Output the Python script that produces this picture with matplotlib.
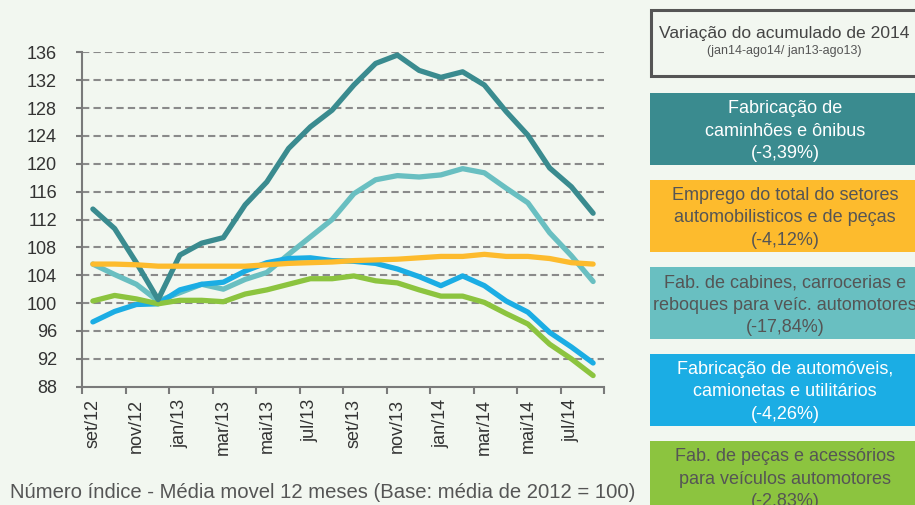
import matplotlib
matplotlib.use("Agg")
import matplotlib.pyplot as plt
from matplotlib.patches import Rectangle

# monthly index, 12-month moving average (base: 2012 mean = 100), set/12 .. ago/14
months = ["set/12", "out/12", "nov/12", "dez/12", "jan/13", "fev/13", "mar/13", "abr/13",
          "mai/13", "jun/13", "jul/13", "ago/13", "set/13", "out/13", "nov/13", "dez/13",
          "jan/14", "fev/14", "mar/14", "abr/14", "mai/14", "jun/14", "jul/14", "ago/14"]
caminhoes = [113.5, 110.7, 105.8, 100.5, 106.9, 108.6, 109.4, 114.1, 117.4, 122.2, 125.3, 127.7,
             131.3, 134.4, 135.6, 133.4, 132.4, 133.2, 131.3, 127.5, 124.1, 119.4, 116.7, 112.9]
cabines = [105.6, 104.1, 102.7, 100.3, 101.5, 102.7, 102.0, 103.4, 104.4, 107.0, 109.5, 112.0,
           115.7, 117.7, 118.3, 118.1, 118.4, 119.3, 118.7, 116.5, 114.4, 110.1, 106.8, 103.1]
automoveis = [97.3, 98.8, 99.8, 99.9, 101.9, 102.7, 103.0, 104.6, 105.8, 106.4, 106.5, 106.1,
              106.0, 105.7, 104.9, 103.8, 102.5, 103.9, 102.5, 100.3, 98.7, 95.8, 93.7, 91.4]
pecas = [100.3, 101.1, 100.6, 99.9, 100.4, 100.4, 100.2, 101.3, 101.9, 102.7, 103.5, 103.5,
         103.9, 103.2, 102.9, 101.9, 101.0, 101.0, 100.1, 98.5, 97.0, 94.1, 92.0, 89.6]
total = [105.6, 105.6, 105.5, 105.3, 105.3, 105.3, 105.3, 105.3, 105.5, 105.7, 105.8, 105.9,
         106.1, 106.2, 106.3, 106.5, 106.7, 106.7, 107.0, 106.7, 106.7, 106.4, 105.8, 105.6]

box_labels = ["Fabricação de\ncaminhões e ônibus",
              "Emprego do total do setores\nautomobilisticos e de peças",
              "Fab. de cabines, carrocerias e\nreboques para veíc. automotores",
              "Fabricação de automóveis,\ncamionetas e utilitários",
              "Fab. de peças e acessórios\npara veículos automotores"]
box_values = ["(-3,39%)", "(-4,12%)", "(-17,84%)", "(-4,26%)", "(-2,83%)"]

BG = "#f2f7f0"
C_CAM = "#3a8b8f"
C_CAB = "#69bfc1"
C_AUT = "#1badE4"
C_PEC = "#8cc43f"
C_TOT = "#fdbb2d"
GRID = "#8a8a8a"
TXT = "#444444"

plt.rcParams["font.family"] = ["Liberation Sans", "DejaVu Sans"]

fig = plt.figure(figsize=(9.15, 5.05), dpi=100, facecolor=BG)
ax = fig.add_axes([82 / 915, 1 - 386.7 / 505, 522 / 915, 334.4 / 505])
ax.set_facecolor(BG)

x = list(range(len(months)))
lw = 3.8
ax.plot(x, cabines, color=C_CAB, lw=lw, zorder=3, solid_capstyle="round")
ax.plot(x, automoveis, color=C_AUT, lw=lw, zorder=4, solid_capstyle="round")
ax.plot(x, pecas, color=C_PEC, lw=lw, zorder=5, solid_capstyle="round")
ax.plot(x, caminhoes, color=C_CAM, lw=lw, zorder=6, solid_capstyle="round")
ax.plot(x, total, color=C_TOT, lw=lw, zorder=7, solid_capstyle="round")

yt = list(range(88, 137, 4))
for v in yt[1:]:
    ax.axhline(v, color=GRID, lw=1.5, ls=(0, (3.5, 2)), zorder=1)
ax.set_ylim(88, 136)
ax.set_xlim(-0.5, len(months) - 0.5)
ax.set_yticks(yt)
ax.set_yticklabels([str(v) for v in yt], fontsize=13, color="#333333")
ax.tick_params(axis="y", length=4, width=1.5, color="#7a7a7a", pad=14)

ax.set_xticks(x[::2])
ax.set_xticklabels(months[::2], rotation=90, fontsize=13, color="#333333")
ax.set_xticks([i - 0.5 for i in range(0, len(months) + 1, 2)], minor=True)
ax.tick_params(axis="x", which="major", length=0, pad=9)
ax.tick_params(axis="x", which="minor", length=5, width=1.5, color="#7a7a7a")

for s in ("top", "right"):
    ax.spines[s].set_visible(False)
for s in ("left", "bottom"):
    ax.spines[s].set_color("#7a7a7a")
    ax.spines[s].set_linewidth(1.5)

fig.text(10 / 915, 1 - 493 / 505, "Número índice - Média movel 12 meses (Base: média de 2012 = 100)",
         fontsize=14.6, color="#555555", ha="left", va="center")

# right-hand legend boxes
def fy(py):
    return 1 - py / 505

fig.patches.append(Rectangle((651 / 915, fy(76)), 270 / 915, 66 / 505, transform=fig.transFigure,
                             facecolor=BG, edgecolor="#555555", lw=2.2, zorder=1))
fig.text(784 / 915, fy(33), "Variação do acumulado de 2014", fontsize=12.6, color=TXT,
         ha="center", va="center")
fig.text(784 / 915, fy(51), "(jan14-ago14/ jan13-ago13)", fontsize=9, color="#555555",
         ha="center", va="center")

box_colors = [C_CAM, C_TOT, C_CAB, C_AUT, C_PEC]
text_colors = ["white", "#555555", "#555555", "white", "#555555"]
box_tops = [93, 180, 267, 354, 441]
for lbl, val, bc, tc, top in zip(box_labels, box_values, box_colors, text_colors, box_tops):
    fig.patches.append(Rectangle((650 / 915, fy(top + 72)), 270 / 915, 72 / 505,
                                 transform=fig.transFigure, facecolor=bc, edgecolor="none"))
    fig.text(785 / 915, fy(top + 38), lbl + "\n" + val, fontsize=13, color=tc,
             ha="center", va="center", linespacing=1.42)

fig.savefig("out.png", dpi=100, facecolor=BG)
